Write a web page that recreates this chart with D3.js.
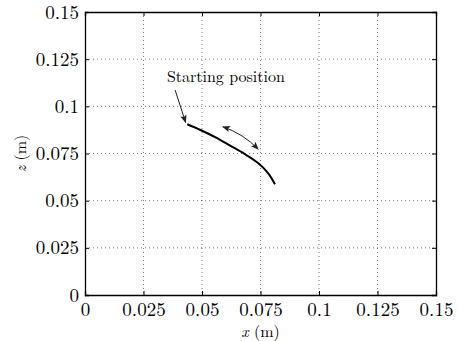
<!DOCTYPE html>
<html>
<head>
<script src="https://d3js.org/d3.v7.min.js"></script>
</head>
<body style="margin: 0; background: #fff;">
<svg width="459" height="341"></svg>
<script>
// tick values / labels
var xTicks = [0, 0.025, 0.05, 0.075, 0.1, 0.125, 0.15];
var zTicks = [0, 0.025, 0.05, 0.075, 0.1, 0.125, 0.15];
var tickLabels = ["0", "0.025", "0.05", "0.075", "0.1", "0.125", "0.15"];

// trajectory of the foot (x, z in metres)
var pathX = [0.0437, 0.0491, 0.0556, 0.0620, 0.0684, 0.0741, 0.0783, 0.0812];
var pathZ = [0.0905, 0.0876, 0.0837, 0.0792, 0.0746, 0.0698, 0.0645, 0.0587];

// annotations
var startLabel = "Starting position";
var startArrow = [[0.0385, 0.1087], [0.0430, 0.0915]];
var swingArrow = [[0.0589, 0.0892], [0.0740, 0.0773]];

var FONT = "'Latin Modern Roman', 'CMU Serif', 'Liberation Serif', serif";

var svg = d3.select("svg");
var margin = {top: 12, right: 23, bottom: 46, left: 85};
var width = 459 - margin.left - margin.right,
    height = 341 - margin.top - margin.bottom;

var x = d3.scaleLinear().domain([0, 0.15]).range([0, width]);
var y = d3.scaleLinear().domain([0, 0.15]).range([height, 0]);

var g = svg.append("g").attr("transform", "translate(" + margin.left + "," + margin.top + ")");

var defs = svg.append("defs");
defs.append("marker")
    .attr("id", "head")
    .attr("viewBox", "0 0 10 10")
    .attr("refX", 9).attr("refY", 5)
    .attr("markerWidth", 8).attr("markerHeight", 8)
    .attr("markerUnits", "userSpaceOnUse")
    .attr("orient", "auto-start-reverse")
    .append("path").attr("d", "M0,1 L10,5 L0,9 L2,5 Z").attr("fill", "#222");

// grid
g.append("g").selectAll("line").data(xTicks.slice(1, -1)).enter().append("line")
    .attr("x1", function (d) { return x(d); }).attr("x2", function (d) { return x(d); })
    .attr("y1", 0).attr("y2", height)
    .attr("stroke", "#444").attr("stroke-width", 0.7).attr("stroke-dasharray", "1,3");
g.append("g").selectAll("line").data(zTicks.slice(1, -1)).enter().append("line")
    .attr("y1", function (d) { return y(d); }).attr("y2", function (d) { return y(d); })
    .attr("x1", 0).attr("x2", width)
    .attr("stroke", "#444").attr("stroke-width", 0.7).attr("stroke-dasharray", "1,3");

// axes (ticks inside, MATLAB style)
var xAxis = g.append("g").attr("transform", "translate(0," + height + ")")
    .call(d3.axisBottom(x).tickValues(xTicks).tickSize(-4).tickPadding(7)
        .tickFormat(function (d, i) { return tickLabels[i]; }));
var xTop = g.append("g")
    .call(d3.axisTop(x).tickValues(xTicks).tickSize(-4).tickFormat(""));
var yAxis = g.append("g")
    .call(d3.axisLeft(y).tickValues(zTicks).tickSize(-4).tickPadding(6)
        .tickFormat(function (d, i) { return tickLabels[i]; }));
var yRight = g.append("g").attr("transform", "translate(" + width + ",0)")
    .call(d3.axisRight(y).tickValues(zTicks).tickSize(-4).tickFormat(""));

[xAxis, xTop, yAxis, yRight].forEach(function (a) {
    a.select(".domain").attr("stroke", "#000").attr("stroke-width", 1.3);
    a.selectAll(".tick line").attr("stroke", "#000");
    a.selectAll("text").style("font-family", FONT).style("font-size", "19px").attr("fill", "#000");
});

// trajectory
var line = d3.line()
    .x(function (d) { return x(d[0]); })
    .y(function (d) { return y(d[1]); })
    .curve(d3.curveCatmullRom);
g.append("path")
    .datum(pathX.map(function (v, i) { return [v, pathZ[i]]; }))
    .attr("d", line)
    .attr("fill", "none").attr("stroke", "#000").attr("stroke-width", 2);

// starting position arrow + label
g.append("line")
    .attr("x1", x(startArrow[0][0])).attr("y1", y(startArrow[0][1]))
    .attr("x2", x(startArrow[1][0])).attr("y2", y(startArrow[1][1]))
    .attr("stroke", "#222").attr("stroke-width", 1)
    .attr("marker-end", "url(#head)");
g.append("text")
    .attr("x", x(0.0350)).attr("y", y(0.1127))
    .attr("fill", "#000")
    .style("font-family", FONT).style("font-size", "16px")
    .text(startLabel);

// double arrow showing swing direction (slightly curved)
var sx0 = x(swingArrow[0][0]), sy0 = y(swingArrow[0][1]),
    sx1 = x(swingArrow[1][0]), sy1 = y(swingArrow[1][1]);
g.append("path")
    .attr("d", "M" + sx0 + "," + sy0 + " Q" + ((sx0 + sx1) / 2 + 3) + "," + ((sy0 + sy1) / 2 - 4) + " " + sx1 + "," + sy1)
    .attr("fill", "none").attr("stroke", "#222").attr("stroke-width", 1)
    .attr("marker-start", "url(#head)").attr("marker-end", "url(#head)");

// axis labels
var xl = svg.append("text")
    .attr("x", margin.left + width / 2).attr("y", 337)
    .attr("text-anchor", "middle").attr("fill", "#000")
    .style("font-family", FONT).style("font-size", "16px");
xl.append("tspan").style("font-style", "italic").text("x");
xl.append("tspan").text(" (m)");

var zl = svg.append("text")
    .attr("transform", "translate(26," + (margin.top + height / 2) + ") rotate(-90)")
    .attr("text-anchor", "middle").attr("fill", "#000")
    .style("font-family", FONT).style("font-size", "16px")
    .style("opacity", 0.999);
zl.append("tspan").style("font-style", "italic").text("z");
zl.append("tspan").text(" (m)");
</script>
</body>
</html>
